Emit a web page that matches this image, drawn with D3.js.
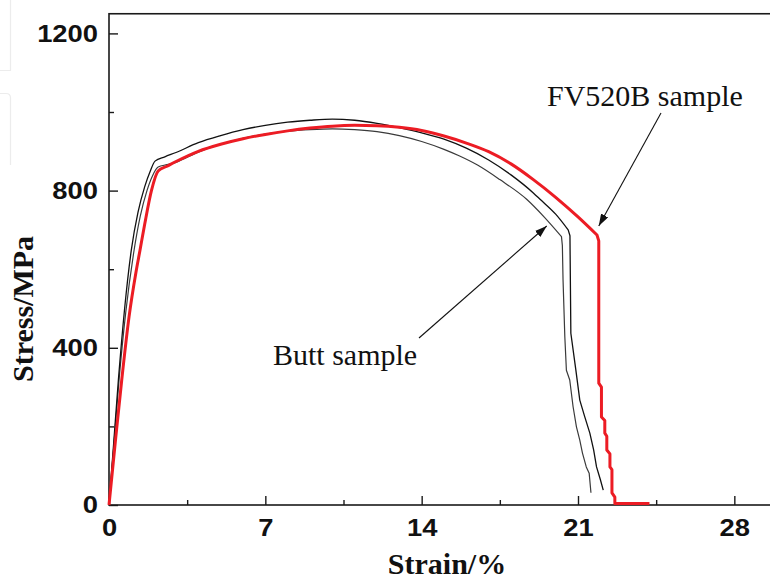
<!DOCTYPE html>
<html>
<head>
<meta charset="utf-8">
<script src="https://cdn.jsdelivr.net/npm/d3@7"></script>
<style>
  html, body { margin: 0; padding: 0; background: #fff; }
  svg { display: block; }
</style>
</head>
<body>
<svg id="chart" width="770" height="580"></svg>
<script>
// Engineering stress-strain curves: FV520B base metal vs. butt (welded) samples
const strainTicks = [0, 7, 14, 21, 28];
const strainMinorTicks = [3.5, 10.5, 17.5, 24.5];
const stressTicks = [0, 400, 800, 1200];
const stressMinorTicks = [200, 600, 1000];

// FV520B sample, loading up to fracture onset: strain %, stress MPa
const fv520bStrain = [0, 0.3, 0.57, 0.9, 1.2, 1.39, 1.6, 1.9, 2.2, 2.6, 3, 4, 5, 6, 7, 8, 9, 10, 11, 12, 13, 14, 15, 16, 17, 18, 19, 20, 21, 21.85];
const fv520bStress = [0, 170, 318, 480, 590, 649, 715, 800, 850, 862, 874, 900, 918, 932, 943, 952, 959, 964, 966, 965, 961, 953, 939, 921, 899, 868, 828, 783, 733, 687];
// FV520B sample, fracture
const fv520bFractureStrain = [21.85, 21.93, 21.93, 22.05, 22.05, 22.2, 22.2, 22.29, 22.29, 22.43, 22.43, 22.52, 22.52, 22.65, 22.65, 24.2];
const fv520bFractureStress = [687, 672, 310, 300, 224, 215, 183, 175, 140, 130, 97, 90, 31, 20, 4, 4];

// Butt sample, upper curve
const buttAStrain = [0, 0.2, 0.42, 0.7, 1.0, 1.3, 1.6, 1.85, 2.06, 2.5, 3, 4, 5, 6, 7, 8, 9, 10, 11, 12, 13, 14, 15, 16, 17, 18, 19, 19.3, 20, 20.56];
const buttAStress = [0, 150, 318, 500, 649, 745, 810, 850, 875, 886, 897, 922, 940, 955, 966, 974, 979, 982, 979, 971, 960, 947, 931, 908, 878, 840, 794, 778, 740, 700];
const buttAFractureStrain = [20.56, 20.64, 20.68, 20.9, 21.08, 21.3, 21.53, 21.7, 21.83, 22.0, 22.13];
const buttAFractureStress = [700, 685, 437, 345, 267, 225, 183, 140, 97, 65, 38];

// Butt sample, lower curve
const buttBStrain = [0, 0.2, 0.45, 0.75, 1.1, 1.4, 1.7, 1.95, 2.2, 2.6, 3, 4, 5, 6, 7, 8, 9, 10, 11, 12, 13, 14, 15, 15.7, 16.5, 17.5, 18.7, 19.5, 20.26];
const buttBStress = [0, 140, 318, 490, 640, 735, 800, 838, 860, 866, 872, 898, 918, 933, 944, 951, 955, 957, 955, 950, 940, 925, 905, 888, 865, 828, 778, 732, 683];
const buttBFractureStrain = [20.26, 20.3, 20.33, 20.41, 20.48, 20.63, 20.78, 20.93, 21.08, 21.2, 21.37, 21.5, 21.58];
const buttBFractureStress = [683, 660, 573, 428, 343, 318, 250, 199, 165, 132, 97, 81, 31];

const svg = d3.select("#chart");
const plotLeft = 109, plotBottom = 505, plotTop = 13.75, plotRight = 779;

const x = d3.scaleLinear().domain([0, 30]).range([plotLeft, plotRight]);
const y = d3.scaleLinear().domain([0, 1250]).range([plotBottom, plotTop]);

const axisColor = "#1a1a1a";

// faint panel edge along the left margin
svg.append("path")
  .attr("d", "M0,70.5 H10.5 V0 M0,93.5 H6 Q10.5,93.5 10.5,98 V165")
  .attr("fill", "none").attr("stroke", "#ececec").attr("stroke-width", 1.2);

// plot frame
svg.append("rect")
  .attr("x", plotLeft).attr("y", plotTop)
  .attr("width", plotRight - plotLeft).attr("height", plotBottom - plotTop)
  .attr("fill", "none").attr("stroke", axisColor).attr("stroke-width", 1.6);

// arrow marker
const defs = svg.append("defs");
defs.append("marker")
  .attr("id", "arrowHead")
  .attr("viewBox", "0 0 12 8")
  .attr("refX", 12).attr("refY", 4)
  .attr("markerWidth", 12).attr("markerHeight", 8)
  .attr("markerUnits", "userSpaceOnUse")
  .attr("orient", "auto")
  .append("path").attr("d", "M0,0 L12,4 L0,8 Z").attr("fill", "#111");

// axes
function styleAxis(g) {
  g.select(".domain").remove();
  g.selectAll(".tick line").attr("stroke", axisColor).attr("stroke-width", 1.4);
}

const tickFont = "'Liberation Sans', Arial, sans-serif";

const xAxis = svg.append("g")
  .attr("transform", `translate(0,${plotBottom})`)
  .call(d3.axisBottom(x).tickValues(strainTicks).tickSizeInner(-9).tickSizeOuter(0).tickPadding(14).tickFormat(d3.format("d")))
  .call(styleAxis);
svg.append("g")
  .attr("transform", `translate(0,${plotBottom})`)
  .call(d3.axisBottom(x).tickValues(strainMinorTicks).tickSizeInner(-5).tickSizeOuter(0).tickFormat(""))
  .call(styleAxis);

const yAxis = svg.append("g")
  .attr("transform", `translate(${plotLeft},0)`)
  .call(d3.axisLeft(y).tickValues(stressTicks).tickSizeInner(-9).tickSizeOuter(0).tickPadding(11).tickFormat(d3.format("d")))
  .call(styleAxis);
svg.append("g")
  .attr("transform", `translate(${plotLeft},0)`)
  .call(d3.axisLeft(y).tickValues(stressMinorTicks).tickSizeInner(-5).tickSizeOuter(0).tickFormat(""))
  .call(styleAxis);

[xAxis, yAxis].forEach(g => {
  g.selectAll(".tick text")
    .attr("fill", "#111")
    .style("font-family", tickFont)
    .style("font-weight", "bold")
    .style("font-size", "24px")
    .each(function () {
      const w = this.getComputedTextLength();
      d3.select(this).attr("textLength", w * 1.14).attr("lengthAdjust", "spacingAndGlyphs");
    });
});

// curves: smooth loading branch, stepped fracture branch
const smoothLine = d3.line().x(d => x(d[0])).y(d => y(d[1])).curve(d3.curveMonotoneX);
const stepLine = d3.line().x(d => x(d[0])).y(d => y(d[1])).curve(d3.curveLinear);
const zip = (a, b) => a.map((v, i) => [v, b[i]]);
const curvePath = (sx, sy, fx, fy) =>
  smoothLine(zip(sx, sy)) + stepLine(zip(fx, fy)).replace(/^M/, "L");

svg.append("path")
  .attr("d", curvePath(buttBStrain, buttBStress, buttBFractureStrain, buttBFractureStress))
  .attr("fill", "none")
  .attr("stroke", "#3a3a3a").attr("stroke-width", 1.2).attr("stroke-linejoin", "round");

svg.append("path")
  .attr("d", curvePath(buttAStrain, buttAStress, buttAFractureStrain, buttAFractureStress))
  .attr("fill", "none")
  .attr("stroke", "#111").attr("stroke-width", 1.3).attr("stroke-linejoin", "round");

svg.append("path")
  .attr("d", curvePath(fv520bStrain, fv520bStress, fv520bFractureStrain, fv520bFractureStress))
  .attr("fill", "none")
  .attr("stroke", "#ec1c24").attr("stroke-width", 3).attr("stroke-linejoin", "round");

// annotations
const serif = "'Liberation Serif', 'Times New Roman', serif";

svg.append("text")
  .attr("x", 547).attr("y", 106)
  .style("font-family", serif).style("font-size", "30px").attr("fill", "#111")
  .text("FV520B sample");

svg.append("line")
  .attr("x1", 661).attr("y1", 113).attr("x2", x(21.93)).attr("y2", y(710))
  .attr("stroke", "#111").attr("stroke-width", 1.1)
  .attr("marker-end", "url(#arrowHead)");

svg.append("text")
  .attr("x", 273).attr("y", 365)
  .style("font-family", serif).style("font-size", "30px").attr("fill", "#111")
  .text("Butt sample");

svg.append("line")
  .attr("x1", 419).attr("y1", 338).attr("x2", x(19.6)).attr("y2", y(710))
  .attr("stroke", "#111").attr("stroke-width", 1.1)
  .attr("marker-end", "url(#arrowHead)");

// axis titles
svg.append("text")
  .attr("x", 447).attr("y", 574)
  .attr("text-anchor", "middle")
  .style("font-family", serif).style("font-size", "30px").style("font-weight", "bold").attr("fill", "#111")
  .text("Strain/%");

svg.append("text")
  .attr("transform", "translate(33,309) rotate(-90)")
  .attr("text-anchor", "middle")
  .style("font-family", serif).style("font-size", "30px").style("font-weight", "bold").attr("fill", "#111")
  .text("Stress/MPa");
</script>
</body>
</html>
